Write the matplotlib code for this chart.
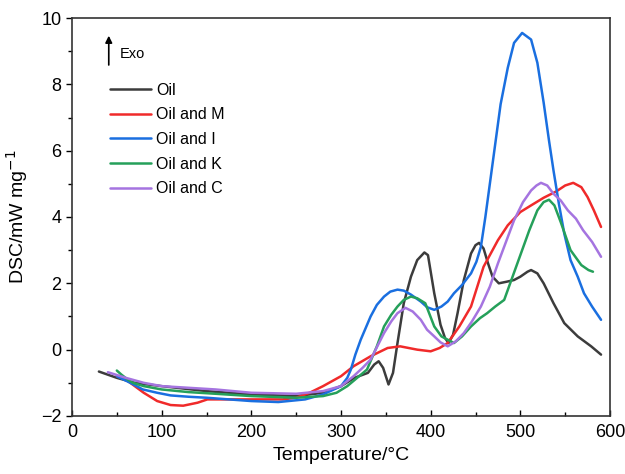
import matplotlib
matplotlib.use("Agg")
import matplotlib.pyplot as plt
from matplotlib.ticker import MultipleLocator

plt.rcParams['font.family'] = ['Liberation Sans', 'DejaVu Sans']

labels = ["Oil", "Oil and M", "Oil and I", "Oil and K", "Oil and C"]
colors = ["#3c3c3c", "#f02a2a", "#1a6fe0", "#25a05a", "#a574e0"]

oil_x = [30, 50, 70, 100, 150, 200, 250, 280, 300, 315, 330, 337, 342, 347, 353, 358, 363, 370, 378, 385, 393,
         397, 404, 411, 416, 420, 425, 430, 437, 445, 450, 454, 459, 464, 469, 476, 485, 493, 500, 508, 512, 519,
         526, 537, 549, 564, 579, 590]
oil_y = [-0.66, -0.85, -1.0, -1.1, -1.25, -1.35, -1.4, -1.3, -1.1, -0.85, -0.7, -0.45, -0.35, -0.55, -1.05, -0.7,
         0.2, 1.4, 2.2, 2.7, 2.93, 2.85, 1.7, 0.75, 0.35, 0.2, 0.45, 1.1, 2.1, 2.9, 3.15, 3.22, 3.05, 2.6, 2.2, 2.0,
         2.05, 2.1, 2.2, 2.35, 2.4, 2.3, 2.0, 1.4, 0.8, 0.4, 0.1, -0.15]

m_x = [50, 60, 68, 80, 95, 110, 124, 140, 151, 170, 200, 235, 250, 265, 280, 300, 314, 333, 352, 366, 385, 400,
       410, 419, 432, 445, 459, 475, 486, 500, 512, 526, 540, 550, 559, 568, 575, 582, 590]
m_y = [-0.8, -0.9, -1.06, -1.3, -1.55, -1.67, -1.69, -1.6, -1.5, -1.5, -1.5, -1.5, -1.45, -1.3, -1.1, -0.8, -0.5,
       -0.2, 0.05, 0.1, 0.0, -0.05, 0.05, 0.2, 0.7, 1.3, 2.5, 3.3, 3.75, 4.15, 4.35, 4.58, 4.77, 4.95, 5.03, 4.9,
       4.6, 4.2, 3.7]

i_x = [50, 65, 79, 95, 110, 130, 150, 175, 200, 230, 260, 280, 300, 307, 311, 316, 322, 333, 340, 348, 355, 363,
       370, 378, 389, 396, 404, 412, 419, 426, 435, 445, 451, 456, 461, 465, 470, 478, 486, 493, 502, 512, 519, 526,
       532, 537, 543, 549, 556, 564, 571, 580, 590]
i_y = [-0.8, -1.0, -1.2, -1.3, -1.38, -1.42, -1.45, -1.5, -1.55, -1.58, -1.5, -1.35, -1.1, -0.85, -0.6, -0.15,
       0.3, 1.0, 1.35, 1.6, 1.75, 1.81, 1.78, 1.66, 1.45, 1.28, 1.2, 1.3, 1.45, 1.7, 1.95, 2.3, 2.65, 3.1, 4.0, 4.8,
       5.8, 7.4, 8.5, 9.25, 9.55, 9.35, 8.65, 7.45, 6.3, 5.4, 4.4, 3.5, 2.7, 2.2, 1.7, 1.3, 0.9]

k_x = [50, 55, 62, 68, 80, 100, 130, 160, 200, 250, 280, 295, 307, 318, 329, 340, 348, 356, 363, 370, 378, 385,
       394, 404, 412, 419, 426, 435, 445, 455, 463, 472, 482, 490, 500, 510, 519, 526, 532, 538, 545, 556, 568,
       576, 581]
k_y = [-0.63, -0.75, -0.9, -1.0, -1.1, -1.2, -1.28, -1.33, -1.4, -1.45, -1.4, -1.3, -1.1, -0.85, -0.6, 0.1, 0.7,
       1.05, 1.3, 1.5, 1.6, 1.55, 1.4, 0.7, 0.4, 0.3, 0.2, 0.4, 0.7, 0.95, 1.1, 1.3, 1.5, 2.1, 2.85, 3.6, 4.2, 4.45,
       4.52, 4.35, 3.85, 3.0, 2.55, 2.4, 2.35]

c_x = [40, 60, 80, 100, 130, 160, 200, 250, 280, 300, 314, 324, 333, 348, 356, 363, 372, 380, 389, 396, 404, 411,
       419, 428, 437, 446, 456, 466, 475, 484, 493, 503, 512, 518, 523, 530, 537, 545, 553, 562, 570, 580, 590]
c_y = [-0.68, -0.85, -1.0, -1.1, -1.15, -1.2, -1.3, -1.33, -1.25, -1.1, -0.8, -0.55, -0.3, 0.5, 0.85, 1.1, 1.26,
       1.15, 0.9, 0.6, 0.4, 0.22, 0.1, 0.25, 0.5, 0.85, 1.3, 1.9, 2.6, 3.25, 3.9, 4.45, 4.8, 4.95, 5.03, 4.95, 4.7,
       4.5, 4.2, 3.95, 3.6, 3.25, 2.8]

series = [(oil_x, oil_y), (m_x, m_y), (i_x, i_y), (k_x, k_y), (c_x, c_y)]

fig = plt.figure(figsize=(6.25, 4.74), dpi=100)
ax = fig.add_axes([0.1152, 0.1224, 0.8608, 0.8396])

for (xs, ys), lab, col in zip(series, labels, colors):
    ax.plot(xs, ys, color=col, lw=1.8, label=lab, solid_capstyle='round', solid_joinstyle='round')

ax.set_xlim(0, 600)
ax.set_ylim(-2, 10)
ax.xaxis.set_major_locator(MultipleLocator(100))
ax.xaxis.set_minor_locator(MultipleLocator(50))
ax.yaxis.set_major_locator(MultipleLocator(2))
ax.yaxis.set_minor_locator(MultipleLocator(1))
ax.tick_params(axis='x', which='both', direction='in', labelsize=13, pad=6)
ax.tick_params(axis='y', which='both', direction='out', labelsize=13)
ax.tick_params(which='major', length=4, width=1)
ax.tick_params(which='minor', length=3, width=1)
for s in ax.spines.values():
    s.set_linewidth(1.2)
    s.set_color('#333333')

ax.set_xlabel("Temperature/°C", fontsize=14, labelpad=4)
ax.set_ylabel("DSC/mW mg$^{-1}$", fontsize=14, labelpad=8)

ax.annotate("", xy=(41, 9.55), xytext=(41, 8.5),
            arrowprops=dict(arrowstyle='-|>', color='black', lw=1.2, mutation_scale=10))
ax.text(53, 8.9, "Exo", fontsize=10.5, va='center', ha='left')

ax.legend(loc='upper left', bbox_to_anchor=(0.058, 0.853), frameon=False, fontsize=11.5,
          handlelength=2.6, handletextpad=0.3, labelspacing=0.6, borderaxespad=0)

fig.savefig("out.png", dpi=100)
